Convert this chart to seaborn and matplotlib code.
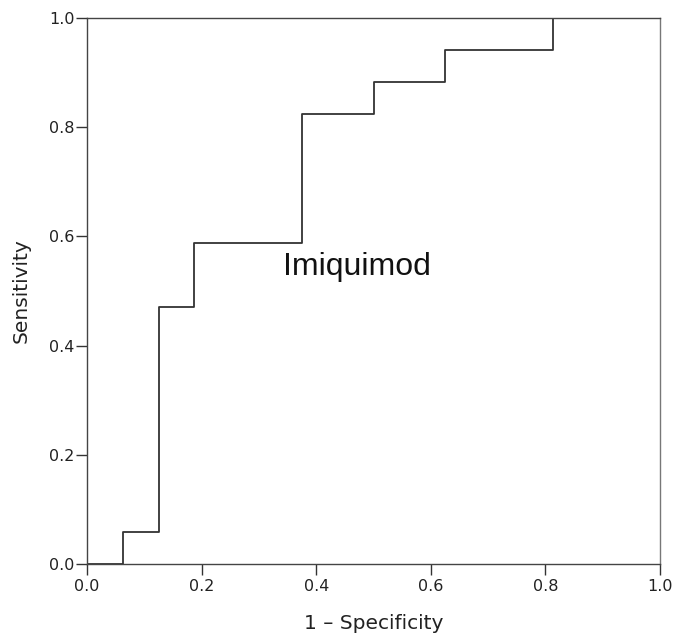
import matplotlib
matplotlib.use("Agg")
import matplotlib.pyplot as plt
import seaborn as sns
import pandas as pd

# ROC curve points (1 - specificity, sensitivity)
fpr = [0.0, 0.0625, 0.0625, 0.125, 0.125, 0.1875, 0.1875, 0.375, 0.375,
       0.5, 0.5, 0.625, 0.625, 0.8125, 0.8125, 1.0]
tpr = [0.0, 0.0, 0.0588, 0.0588, 0.4706, 0.4706, 0.5882, 0.5882, 0.8235,
       0.8235, 0.8824, 0.8824, 0.9412, 0.9412, 1.0, 1.0]
ticks = [0.0, 0.2, 0.4, 0.6, 0.8, 1.0]
tick_labels = ["0.0", "0.2", "0.4", "0.6", "0.8", "1.0"]
curve_label = "Imiquimod"

sns.set_style("white")
plt.rcParams['font.family'] = ['DejaVu Sans']

df = pd.DataFrame({"fpr": fpr, "tpr": tpr})

fig = plt.figure(figsize=(6.78, 6.35), dpi=100)
ax = fig.add_axes([87/678, 1 - 564/635, (660-87)/678, (564-18)/635])

sns.lineplot(data=df, x="fpr", y="tpr", sort=False, estimator=None,
             color="#333333", linewidth=1.3, ax=ax)

ax.set_xlim(0, 1)
ax.set_ylim(0, 1)
ax.set_xticks(ticks)
ax.set_xticklabels(tick_labels)
ax.set_yticks(ticks)
ax.set_yticklabels(tick_labels)
ax.tick_params(axis="both", direction="out", length=8, width=1,
               colors="#333333", labelsize=11.5, labelcolor="#222222",
               bottom=True, left=True)
ax.tick_params(axis="x", pad=3)
ax.tick_params(axis="y", pad=1)
for s in ax.spines.values():
    s.set_color("#444444")
    s.set_linewidth(1.0)
ax.spines["right"].set_color("#777777")

ax.set_xlabel("1 \u2013 Specificity", fontsize=14.5, color="#222222", labelpad=14)
ax.set_ylabel("Sensitivity", fontsize=14.5, color="#222222", labelpad=13)

ax.text(0.342, 0.529, curve_label, fontsize=23, family=["Liberation Sans"],
        ha="left", va="baseline", color="#111111")

fig.savefig("out.png", dpi=100)
